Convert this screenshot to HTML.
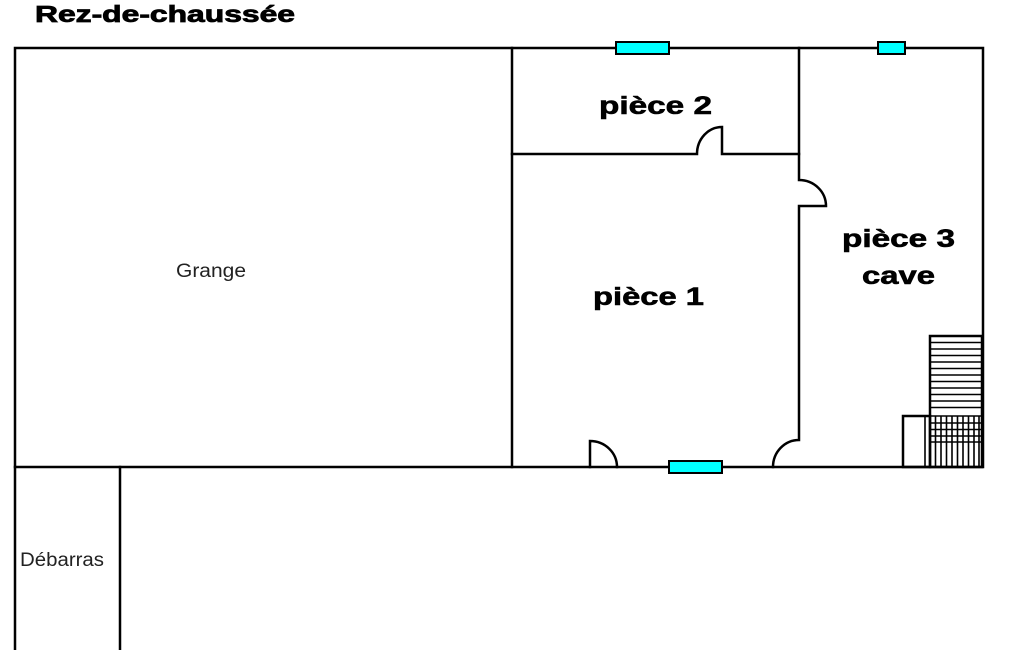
<!DOCTYPE html>
<html><head><meta charset="utf-8"><style>
html,body{margin:0;padding:0;background:#fff;width:1025px;height:650px;overflow:hidden}
svg{display:block}
</style></head><body>
<svg width="1025" height="650" viewBox="0 0 1025 650" xmlns="http://www.w3.org/2000/svg">
<g fill="none" stroke="#000" stroke-width="2.5" stroke-linecap="square">
<path d="M15 48 H983 V467 H15 Z"/>
<path d="M15 467 V650"/>
<path d="M120 467 V650"/>
<path d="M512 48 V467"/>
<path d="M512 154 H697 A25 27 0 0 1 722 127 V154 H799"/>
<path d="M799 48 V180 A27 26 0 0 1 826 206 H799 V440 A26 27 0 0 0 773 467"/>
<path d="M590 467 V441 A27 26 0 0 1 617 467"/>
<rect x="930" y="336" width="52" height="131"/>
<rect x="903" y="416" width="27" height="51"/>
</g>
<g stroke="#000" stroke-width="1.6">
<path d="M930 342.5H982M930 349H982M930 355.5H982M930 362H982M930 368.5H982M930 375H982M930 381.5H982M930 388H982M930 394.5H982M930 401H982M930 407.5H982M930 416H982M930 423H982M930 429.5H982M930 436H982M930 442H982"/>
<path d="M925 416V467M935.5 416V467M941 416V467M946.5 416V467M952 416V467M957.5 416V467M963 416V467M968.5 416V467M974 416V467M979 416V467"/>
</g>
<g fill="#00ffff" stroke="#000" stroke-width="2">
<rect x="616" y="42" width="53" height="12"/>
<rect x="878" y="42" width="27" height="12"/>
<rect x="669" y="461" width="53" height="12"/>
</g>
<g font-family="Liberation Sans, Arial, sans-serif" fill="#000">
<text x="35" y="22" font-size="23" font-weight="bold" textLength="260" lengthAdjust="spacingAndGlyphs" stroke="#000" stroke-width="0.8">Rez-de-chaussée</text>
<text x="599" y="114" font-size="25" font-weight="bold" textLength="113" lengthAdjust="spacingAndGlyphs" stroke="#000" stroke-width="0.6">pièce 2</text>
<text x="593" y="305" font-size="25" font-weight="bold" textLength="111" lengthAdjust="spacingAndGlyphs" stroke="#000" stroke-width="0.6">pièce 1</text>
<text x="842" y="247" font-size="25" font-weight="bold" textLength="113" lengthAdjust="spacingAndGlyphs" stroke="#000" stroke-width="0.6">pièce 3</text>
<text x="862" y="284" font-size="25" font-weight="bold" textLength="73" lengthAdjust="spacingAndGlyphs" stroke="#000" stroke-width="0.6">cave</text>
<text x="176" y="277" font-size="19" fill="#222" textLength="70" lengthAdjust="spacingAndGlyphs">Grange</text>
<text x="20" y="566" font-size="19" fill="#222" textLength="84" lengthAdjust="spacingAndGlyphs">Débarras</text>
</g>
</svg>
</body></html>
